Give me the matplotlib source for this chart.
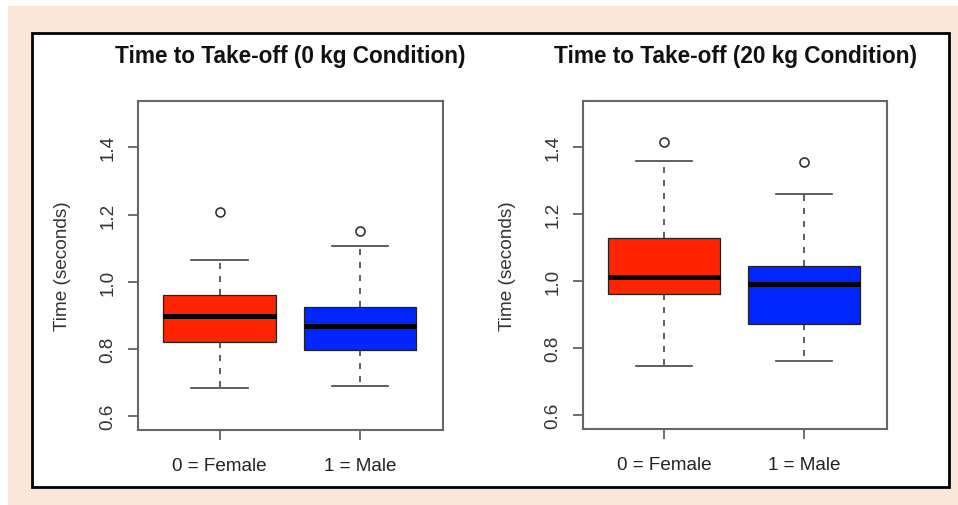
import matplotlib
matplotlib.use('Agg')
import matplotlib.pyplot as plt
from matplotlib.patches import Rectangle

plt.rcParams['font.family'] = ['Liberation Sans', 'DejaVu Sans']

groups = ['0 = Female', '1 = Male']
box_colors = ['#ff2400', '#0026ff']

titles = ['Time to Take-off (0 kg Condition)', 'Time to Take-off (20 kg Condition)']

# five-number summaries: [low whisker, q1, median, q3, high whisker]
cond0_female = [0.684, 0.822, 0.898, 0.960, 1.065]
cond0_male = [0.689, 0.797, 0.867, 0.924, 1.106]
cond20_female = [0.746, 0.961, 1.014, 1.128, 1.360]
cond20_male = [0.761, 0.873, 0.991, 1.046, 1.260]

cond0_outliers = [[1.209], [1.150]]
cond20_outliers = [[1.417], [1.357]]

yticks = [0.6, 0.8, 1.0, 1.2, 1.4]


def make_stats(summaries, outliers):
    stats = []
    for s, fl, name in zip(summaries, outliers, groups):
        stats.append({'whislo': s[0], 'q1': s[1], 'med': s[2], 'q3': s[3],
                      'whishi': s[4], 'fliers': fl, 'label': name})
    return stats


def draw_panel(ax, stats):
    bp = ax.bxp(stats, positions=[1, 2], widths=0.8, patch_artist=True,
                showfliers=True,
                boxprops=dict(edgecolor='#222222', linewidth=0.9),
                medianprops=dict(color='black', linewidth=3.6, solid_capstyle='butt'),
                whiskerprops=dict(color='#333333', linewidth=1.1, linestyle=(0, (4, 4.5))),
                capprops=dict(color='#444444', linewidth=1.2),
                capwidths=0.4,
                flierprops=dict(marker='o', markersize=6.5, markerfacecolor='none',
                                markeredgecolor='#333333', markeredgewidth=1.2))
    for patch, c in zip(bp['boxes'], box_colors):
        patch.set_facecolor(c)
    ax.set_xlim(0.42, 2.59)
    ax.set_ylim(0.559, 1.538)
    ax.set_yticks(yticks)
    ax.set_yticklabels([f'{t:.1f}' for t in yticks], rotation=90, va='center',
                       fontsize=13.6, color='#333333')
    ax.set_xticks([1, 2])
    ax.set_xticklabels(groups, fontsize=13.6, color='#222222')
    ax.tick_params(axis='both', length=7.5, width=1.2, color='#555555')
    ax.tick_params(axis='y', pad=8)
    ax.tick_params(axis='x', pad=12)
    for sp in ax.spines.values():
        sp.set_color('#666666')
        sp.set_linewidth(1.5)
    ax.set_ylabel('Time (seconds)', fontsize=13.7, color='#333333')
    ax.yaxis.label.set_verticalalignment('center')
    ax.yaxis.set_label_coords(-76 / 305, 0.5)
    ax.set_facecolor('white')


W, H = 958, 506
fig = plt.figure(figsize=(W / 100, H / 100), dpi=100, facecolor='#fce6d7')

# white strips at the top and left edge of the picture
fig.patches.append(Rectangle((0, 1 - 7 / H), 1, 7 / H, transform=fig.transFigure,
                             facecolor='white', edgecolor='none', zorder=-10))
fig.patches.append(Rectangle((0, 0), 8 / W, 1, transform=fig.transFigure,
                             facecolor='white', edgecolor='none', zorder=-10))
# white card with black border
fig.patches.append(Rectangle((32 / W, 1 - 488 / H), (949 - 32) / W, (488 - 34) / H,
                             transform=fig.transFigure, facecolor='white',
                             edgecolor='black', linewidth=2, zorder=-10))

ax1 = fig.add_axes([138 / W, 1 - 431 / H, 305 / W, 329 / H])
ax2 = fig.add_axes([583 / W, 1 - 430 / H, 304 / W, 328 / H])

draw_panel(ax1, make_stats([cond0_female, cond0_male], cond0_outliers))
draw_panel(ax2, make_stats([cond20_female, cond20_male], cond20_outliers))

fig.text(290 / W, 1 - 57 / H, titles[0], ha='center', va='center',
         fontsize=16.3, fontweight='bold', color='#111111')
fig.text(735 / W, 1 - 57 / H, titles[1], ha='center', va='center',
         fontsize=16.3, fontweight='bold', color='#111111')

fig.savefig('out.png', dpi=100, facecolor=fig.get_facecolor())
